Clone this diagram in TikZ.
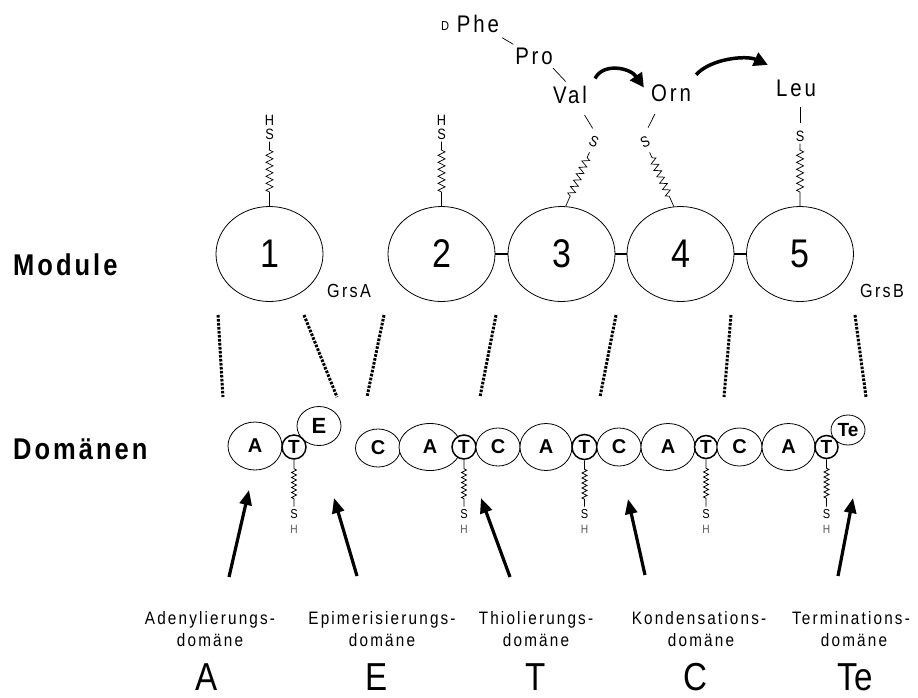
\documentclass[tikz,border=0pt]{standalone}
\usepackage{fontspec}
\setmainfont{Liberation Sans}
\newfontfamily\narrowf{Liberation Sans}[FakeStretch=0.85]
\newfontfamily\widef{Liberation Sans}[FakeStretch=0.85,LetterSpace=12]
\newfontfamily\headf{Liberation Sans}[FakeStretch=0.85,LetterSpace=10]
\usetikzlibrary{shapes.geometric,decorations.pathmorphing,arrows.meta,calc}

\newcommand\fsz[1]{\fontsize{#1}{#1}\selectfont}

\tikzset{
  module/.style={ellipse, draw, line width=0.8pt, minimum width=107pt,
    minimum height=95pt, inner sep=0pt, font=\narrowf\fsz{40}},
  dom/.style={ellipse, draw, line width=0.8pt, fill=white, inner sep=0pt,
    font=\bfseries\fsz{20}},
  tdom/.style={circle, draw, line width=1.5pt, fill=white, minimum size=24pt,
    inner sep=0pt, font=\bfseries\fsz{19}},
  pep/.style={inner sep=0pt, font=\widef\fsz{24}},
  sulf/.style={inner sep=0pt, font=\narrowf\fsz{15}},
  dsulf/.style={inner sep=0pt, font=\narrowf\fsz{13}},
  dhyd/.style={inner sep=0pt, font=\narrowf\fsz{12}, text=black!65},
  link/.style={line width=0.7pt},
  tether/.style={line width=0.7pt},
  zzm/.style={decoration={zigzag, segment length=7pt, amplitude=3.5pt}},
  zzd/.style={decoration={zigzag, segment length=5pt, amplitude=2.5pt}},
  dots/.style={line width=3pt, dash pattern=on 2.6pt off 1.4pt},
  bigarr/.style={line width=3.2pt, -{Triangle[length=15pt,width=12pt]}},
  curv/.style={line width=3.5pt, -{Triangle[length=14pt,width=14pt]}},
  bond/.style={line width=2.5pt},
  heading/.style={anchor=base west, inner sep=0pt, font=\headf\bfseries\fsz{30}},
  caption/.style={anchor=base, inner sep=0pt, font=\widef\fsz{18}},
  bigletter/.style={anchor=base, inner sep=0pt, font=\narrowf\fsz{39}},
  protein/.style={anchor=base, inner sep=0pt, font=\widef\fsz{19}},
}

\begin{document}
\begin{tikzpicture}[x=1pt,y=-1pt]
\useasboundingbox (0,0) rectangle (918,697);

% ---------- row headings ----------
\node[heading] (hmod) at (13,275) {Module};
\node[heading] (hdom) at (13,459) {Domänen};

% ---------- modules ----------
\node[module] (m1) at (269.5,254) {\raisebox{-3pt}{1}};
\node[module] (m2) at (441.5,254) {\raisebox{-3pt}{2}};
\node[module] (m3) at (561.5,254) {\raisebox{-3pt}{3}};
\node[module] (m4) at (680.5,254) {\raisebox{-3pt}{4}};
\node[module] (m5) at (800,254)   {\raisebox{-3pt}{5}};
\draw[bond] (m2.east) -- (m3.west);
\draw[bond] (m3.east) -- (m4.west);
\draw[bond] (m4.east) -- (m5.west);

\node[protein] (grsa) at (349,297) {GrsA};
\node[protein] (grsb) at (882,297) {GrsB};

% ---------- free thiol arms of modules 1 and 2 ----------
\node[sulf] (s1) at (269.5,134) {S};
\node[sulf] (h1) at (269.5,120) {H};
\draw[tether, shorten >=2pt] (m1.north) -- ++(0,-14) decorate[zzm]{-- ++(0,-42)} -- (s1.south);
\node[sulf] (s2) at (441.5,134) {S};
\node[sulf] (h2) at (441.5,120) {H};
\draw[tether, shorten >=2pt] (m2.north) -- ++(0,-14) decorate[zzm]{-- ++(0,-42)} -- (s2.south);

% ---------- loaded arms of modules 3, 4, 5 ----------
\node[sulf, rotate=-25] (s3) at (594,142) {S};
\draw[tether] (m3.85) -- ($(m3.85)!0.16!(s3)$)
  decorate[zzm]{-- ($(m3.85)!0.76!(s3)$)} -- ($(m3.85)!0.84!(s3)$);
\node[sulf, rotate=25] (s4) at (645,142) {S};
\draw[tether] (m4.98) -- ($(m4.98)!0.16!(s4)$)
  decorate[zzm]{-- ($(m4.98)!0.76!(s4)$)} -- ($(m4.98)!0.84!(s4)$);
\node[sulf] (s5) at (800,136) {S};
\draw[tether, shorten >=2pt] (m5.north) -- ++(0,-14) decorate[zzm]{-- ++(0,-42)} -- (s5.south);

% ---------- growing peptide ----------
\node[inner sep=0pt, font=\narrowf\fsz{13}] (dd) at (445,26.5) {D};
\node[pep] (phe) at (478,23.5) {Phe};
\node[pep] (pro) at (534,56.5) {Pro};
\node[pep] (val) at (570,94.5) {Val};
\node[pep] (orn) at (671,93.5) {Orn};
\node[pep] (leu) at (796,88.5) {Leu};

\draw[link, shorten <=28pt, shorten >=24pt] (phe.center) -- (pro.center);
\draw[link, shorten <=16pt, shorten >=18pt] ([xshift=8pt]pro.center) -- ([xshift=8pt]val.center);
\draw[link, shorten <=24pt, shorten >=16pt] ([xshift=2pt]val.center) -- ([xshift=7pt]s3.center);
\draw[link, shorten <=23pt, shorten >=16pt] ([xshift=-6pt]orn.center) -- ([xshift=-4pt]s4.center);
\draw[link, shorten <=18.5pt, shorten >=13pt] ([xshift=4pt]leu.center) -- (s5.center);

\draw[curv] ([shift={(8,-7)}]val.north east) .. controls +(8,-16) and +(-14,-20) .. ([shift={(-7,-6)}]orn.west);
\draw[curv] ([shift={(5,-10)}]orn.north east) .. controls +(14,-16) and +(-22,-10) .. ([shift={(-8,-15)}]leu.north west);

% ---------- dotted correspondence lines ----------
\coordinate (d1a) at (218,315); \coordinate (d1b) at (223,397);
\coordinate (d2a) at (304,315); \coordinate (d2b) at (337,397);
\coordinate (d3a) at (384,315); \coordinate (d3b) at (367,397);
\coordinate (d4a) at (496,315); \coordinate (d4b) at (480,397);
\coordinate (d5a) at (616,315); \coordinate (d5b) at (600,397);
\coordinate (d6a) at (731,315); \coordinate (d6b) at (724,397);
\coordinate (d7a) at (855,315); \coordinate (d7b) at (866,397);
\foreach \i in {1,...,7} \draw[dots] (d\i a) -- (d\i b);

% ---------- domains ----------
\node[dom, minimum width=54pt, minimum height=48pt] (a1) at (255,446) {A};
\node[dom, minimum width=44pt, minimum height=39pt, font=\bfseries\fsz{22}] (e1) at (319,426) {E};
\node[tdom] (t1) at (294,447) {T};

\node[dom, minimum width=45pt, minimum height=38pt] (c1) at (378,448) {C};
\node[dom, minimum width=62pt, minimum height=47pt] (a2) at (430,447) {A};
\node[tdom] (t2) at (464,447) {T};
\node[dom, minimum width=44pt, minimum height=38pt] (c2) at (498,447) {C};
\node[dom, minimum width=52pt, minimum height=47pt] (a3) at (546,447) {A};
\node[tdom, minimum size=25pt] (t3) at (584.5,447) {T};
\node[dom, minimum width=44pt, minimum height=38pt] (c3) at (619,447) {C};
\node[dom, minimum width=54pt, minimum height=47pt] (a4) at (668,447) {A};
\node[tdom, minimum size=23pt] (t4) at (706,447) {T};
\node[dom, minimum width=45pt, minimum height=38pt] (c4) at (739.5,447) {C};
\node[dom, minimum width=53pt, minimum height=47pt] (a5) at (788.5,447) {A};
\node[dom, minimum width=34pt, minimum height=30pt, font=\bfseries\fsz{19}] (te) at (848,430) {Te};
\node[tdom, minimum size=23pt] (t5) at (826.5,447) {T};

% ---------- phosphopantetheine arms of the T domains ----------
\foreach \t/\x in {t1/294, t2/464, t3/584.5, t4/706, t5/826.5}{
  \node[dsulf] (\t s) at (\x,514.5) {S};
  \node[dhyd] (\t h) at (\x,529.5) {H};
  \draw[tether, shorten >=3pt] (\t.south) -- ++(0,9) decorate[zzd]{-- ++(0,32)} -- (\t s.north);
}

% ---------- pointer arrows ----------
\coordinate (pA0) at (229,577);  \coordinate (pA1) at (249,490);
\coordinate (pE0) at (357,576);  \coordinate (pE1) at (334,498);
\coordinate (pT0) at (510,577);  \coordinate (pT1) at (481,498);
\coordinate (pC0) at (645,575);  \coordinate (pC1) at (628,499);
\coordinate (pX0) at (838,576);  \coordinate (pX1) at (853,498);
\foreach \k in {A,E,T,C,X} \draw[bigarr] (p\k0) -- (p\k1);

% ---------- legend ----------
\node[caption] (lA1) at (210,624) {Adenylierungs-};
\node[caption] (lA2) at (210,646) {domäne};
\node[caption] (lE1) at (382,624) {Epimerisierungs-};
\node[caption] (lE2) at (382,646) {domäne};
\node[caption] (lT1) at (536,624) {Thiolierungs-};
\node[caption] (lT2) at (536,646) {domäne};
\node[caption] (lC1) at (699,624) {Kondensations-};
\node[caption] (lC2) at (701,646) {domäne};
\node[caption] (lX1) at (851,624) {Terminations-};
\node[caption] (lX2) at (854,646) {domäne};

\node[bigletter] (bA) at (207,690) {A};
\node[bigletter] (bE) at (377,690) {E};
\node[bigletter] (bT) at (536,690) {T};
\node[bigletter] (bC) at (695,690) {C};
\node[bigletter] (bX) at (855,690) {Te};
\end{tikzpicture}
\end{document}
